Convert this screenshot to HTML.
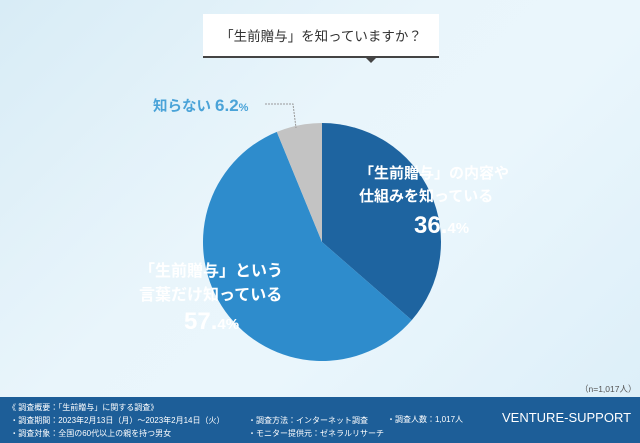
<!DOCTYPE html>
<html><head><meta charset="utf-8"><style>
body{margin:0}
#wrap{position:relative;width:640px;height:443px;overflow:hidden;background:linear-gradient(135deg,#d8ecf6 0%,#e9f5fb 40%,#eaf6fc 60%,#dbeef8 100%);font-family:"Liberation Sans","Noto Sans CJK JP",sans-serif}
.t{position:absolute;white-space:nowrap}
</style></head><body>
<div id="wrap">
<div class="t" style="left:203px;top:14px;width:236px;height:42px;background:#fff;border-bottom:2px solid #444;"></div>
<div class="t" style="left:364px;top:56px;width:0;height:0;border-left:7px solid transparent;border-right:7px solid transparent;border-top:7px solid #444"></div>
<div class="t" style="left:203px;top:25px;width:236px;text-align:center;font-size:13.5px;color:#333">「生前贈与」を知っていますか？</div>
<svg id="pie" width="640" height="443" style="position:absolute;left:0;top:0"></svg>
<div class="t" style="left:153px;top:95px;font-size:14.5px;color:#4aa3d8;font-weight:bold">知らない <span style="font-size:17px">6.2</span><span style="font-size:11px">%</span></div>
<div class="t" style="left:359px;top:162px;font-size:15px;line-height:23px;color:#fff;font-weight:bold">「生前贈与」の内容や<br>仕組みを知っている</div>
<div class="t" style="left:414px;top:212px;font-size:24px;color:#fff;font-weight:bold">36.<span style="font-size:15px">4%</span></div>
<div class="t" style="left:139px;top:260px;font-size:16px;line-height:24px;color:#fff;font-weight:bold">「生前贈与」という<br>言葉だけ知っている</div>
<div class="t" style="left:184px;top:308px;font-size:24px;color:#fff;font-weight:bold">57.<span style="font-size:15px">4%</span></div>
<div class="t" style="left:580px;top:383px;font-size:8.5px;color:#555">（n=1,017人）</div>
<div class="t" style="left:0;top:397px;width:640px;height:46px;background:#1d5e98"></div>
<div class="t" style="left:8px;top:401px;font-size:8px;line-height:13px;color:#fff">《 調査概要：「生前贈与」に関する調査》<br>&nbsp;・調査期間：2023年2月13日（月）～2023年2月14日（火）<br>&nbsp;・調査対象：全国の60代以上の親を持つ男女</div>
<div class="t" style="left:248px;top:414px;font-size:8px;line-height:13px;color:#fff">・調査方法：インターネット調査<br>・モニター提供元：ゼネラルリサーチ</div>
<div class="t" style="left:387px;top:414px;font-size:8px;color:#fff">・調査人数：1,017人</div>
<div class="t" style="left:502px;top:410px;font-size:13px;color:#fff">VENTURE-SUPPORT</div>
</div>
<script>
const categories=["「生前贈与」の内容や仕組みを知っている","「生前贈与」という言葉だけ知っている","知らない"];
const values=[36.4,57.4,6.2];
const colors=["#1e64a0","#2e8ccc","#c3c3c3"];
const svg=document.getElementById('pie');
const cx=322,cy=242,r=119;
const total=values.reduce((a,b)=>a+b,0);
function pt(f){const a=f*2*Math.PI-Math.PI/2;return [cx+r*Math.cos(a),cy+r*Math.sin(a)];}
let acc=0;
values.forEach((v,i)=>{
 const s=pt(acc/total);acc+=v;const e=pt(acc/total);
 const large=v/total>0.5?1:0;
 const p=document.createElementNS('http://www.w3.org/2000/svg','path');
 p.setAttribute('d',`M${cx},${cy}L${s[0]},${s[1]}A${r},${r} 0 ${large} 1 ${e[0]},${e[1]}Z`);
 p.setAttribute('fill',colors[i]);
 
 
 svg.appendChild(p);
});
const l=document.createElementNS('http://www.w3.org/2000/svg','polyline');
l.setAttribute('points','265,104 293,104 296,128');
l.setAttribute('fill','none');l.setAttribute('stroke','#999');l.setAttribute('stroke-dasharray','2,1');


svg.appendChild(l);
</script>
</body></html>
